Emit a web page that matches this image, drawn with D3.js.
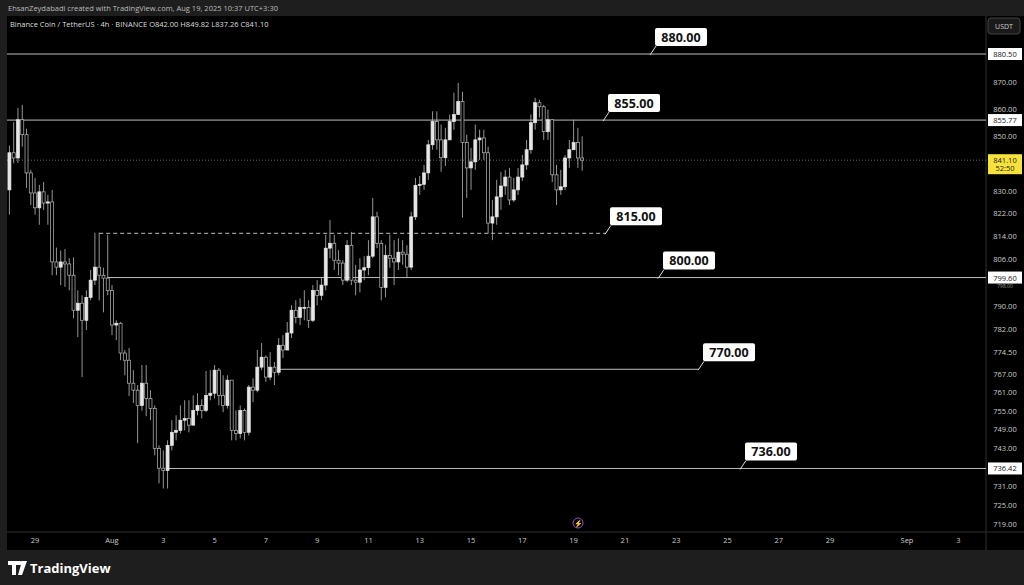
<!DOCTYPE html>
<html><head><meta charset="utf-8">
<script src="https://cdn.jsdelivr.net/npm/d3@7"></script>
<style>body{margin:0;background:#1e1e1e;}svg{display:block;font-family:"Open Sans",Roboto,sans-serif;}</style>
</head><body>
<script>
const startTime = new Date(2025,6,28,0,0);
const closes=[843.8,841.9,855.9,850.4,836.5,829.3,824,829.7,825.7,826.1,805,803.2,805,804.3,800.4,788.4,790.8,785,792.8,798.7,803.2,800.4,799.4,795.2,783.4,784,774,771.6,764,761.7,756.7,764,759,755.7,742.8,736.5,735.8,743.8,748,748.6,751.9,752.5,750.3,755.1,756.7,755.1,760,760.7,768.3,760,756.7,765,748.6,747.6,755.1,748,762.7,761.7,769.3,772.6,766,769.3,767.6,776.6,775,780.7,788.4,786,789.4,789.4,785,795.2,793.5,797,809.8,811.5,805.6,804.6,798.7,810.8,798.7,798,802.2,803,807,820.8,811.5,796.2,807.3,806.3,805,808.4,807.7,803.2,820.8,832,832.4,836.5,846.7,855.2,848.5,842,848.5,855.2,857.8,862.6,847.5,838.3,840.5,848.5,849.2,843.8,818.6,820.8,827.9,831.8,835,826.8,830.4,835,839.4,844.9,854.8,862.2,860.7,851.5,855.9,835.8,830.4,831.5,841.9,844.9,847.5,841.9,841.1];
const highs=[846.4,855,860.3,861.4,852.6,837.6,834.7,832.2,833.2,828.6,830.4,810,809,809.5,806.3,806.6,795.2,793.5,795.2,802.2,815.2,815.2,803,814.5,797,785,784.4,775,775.7,768.3,763.4,770,770,761.7,756.7,743.8,742.2,745.4,751.9,753.5,756.7,758.4,758.4,760,760.7,758.7,768,768.3,770,769,766.6,766.6,764.4,755.1,756.7,755.7,763.4,765.6,775,777.3,773.2,774.3,771,779,780,784.4,790.1,791.8,792.5,795.2,791.8,797,798.7,799.4,814.5,819.7,814.5,809.1,805.6,812.6,815.5,804,806.3,807,812.6,827.5,822.6,812.6,811,814.5,812.6,813.2,812.6,810.8,822.6,834.7,835.4,839.4,848.5,859,859,854.1,852.9,857.8,865.9,869.6,866.3,850.4,845.6,854.1,852.2,852.2,846,826.8,834,836.9,837.6,838.3,834.7,838.3,843,848.5,857.8,864,863.3,861.4,859.6,855.9,839.4,837.6,843,848.5,855.9,852.9,849.82];
const lows=[821.6,840,840.1,846,831.1,825,821.6,818,823.3,818,800.4,800.4,797,796.4,795.2,785.7,779.3,766,781.7,791.8,797,791.8,787.7,793.5,780,778.3,771.6,766.6,759.8,757.5,744.5,755,753.2,751.9,740.6,731.7,730.1,730.1,742.2,745.4,747.6,748.6,748,750.3,753.5,752.5,754.5,758.4,759,756.7,754.5,755.7,745.4,745.4,746,745.4,747,757.8,761,768.3,764.4,765,763.4,766.6,772.3,775.7,779,784,783.4,785,782.4,784.4,790.1,791.8,795.2,806.3,802.2,800.4,797,798,797,793.5,794.5,798.7,800.4,806.3,809.8,791.8,792.8,803,797,802.2,804,799.4,802.2,819.7,828.6,830.4,834,844.9,844.9,836.9,839,850.4,852.2,859.6,820.5,827.5,830.4,837.6,841.2,841.2,815,812.6,818,823.3,828.6,825,826.1,828.6,833.6,837.6,843.4,852.2,856.7,848.5,848.5,833.2,825,828.6,830.4,838.3,844.9,838.3,837.26];
const firstOpen=830.4;
const priceTicks=[870,860,850,830,822,814,806,790,782,774.5,767,761,755,749,743,731,725,719];
const hiddenTick=798;
const levels=[
 {v:880.5,label:"880.00",x0:null,x1:null,lx:655},
 {v:855.77,label:"855.00",x0:null,x1:null,lx:608},
 {v:815,label:"815.00",x0:"2025-07-31T12:00",x1:"2025-08-20T06:00",lx:610,dash:true},
 {v:799.6,label:"800.00",x0:"2025-07-31T20:00",x1:null,lx:663},
 {v:768.6,label:"770.00",x0:"2025-08-07T12:00",x1:"2025-08-23T21:00",lx:703},
 {v:736.42,label:"736.00",x0:"2025-08-03T04:00",x1:null,lx:745}];
const axisBoxes=[880.5,855.77,799.6,736.42];
const dateTicks=[["2025-07-29","29"],["2025-08-01","Aug"],["2025-08-03","3"],["2025-08-05","5"],["2025-08-07","7"],["2025-08-09","9"],["2025-08-11","11"],["2025-08-13","13"],["2025-08-15","15"],["2025-08-17","17"],["2025-08-19","19"],["2025-08-21","21"],["2025-08-23","23"],["2025-08-25","25"],["2025-08-27","27"],["2025-08-29","29"],["2025-09-01","Sep"],["2025-09-03","3"]];

const W=1024,H=585,plotL=7,plotR=986,plotT=16,plotB=532;
const svg=d3.select("body").append("svg").attr("width",W).attr("height",H);
svg.append("rect").attr("width",W).attr("height",H).attr("fill","#1e1e1e");
svg.append("rect").attr("x",plotL).attr("y",plotT).attr("width",W-plotL).attr("height",plotB+18-plotT).attr("fill","#000");
svg.append("line").attr("x1",plotR).attr("x2",plotR).attr("y1",plotT).attr("y2",plotB+18).attr("stroke","#2e2e2e");
svg.append("line").attr("x1",plotL).attr("x2",W).attr("y1",plotB).attr("y2",plotB).attr("stroke","#2e2e2e");
const x=d3.scaleTime().domain([new Date(2025,7,1),new Date(2025,8,1)]).range([112,907]);
const y=d3.scaleLog().domain([719,880.5]).range([524,54]);
const pt=s=>new Date(s);
const data=closes.map((c,i)=>({t:d3.timeHour.offset(startTime,4*i),o:i?closes[i-1]:firstOpen,h:highs[i],l:lows[i],c}));
svg.append("text").attr("x",8).attr("y",11).attr("fill","#bbb").attr("font-size",7.5).text("EhsanZeydabadi created with TradingView.com, Aug 19, 2025 10:37 UTC+3:30");
svg.append("text").attr("x",10).attr("y",27).attr("fill","#ddd").attr("font-size",7.5).text("Binance Coin / TetherUS · 4h · BINANCE  O842.00  H849.82  L837.26  C841.10");
svg.append("line").attr("x1",plotL).attr("x2",plotR).attr("y1",y(841.1)).attr("y2",y(841.1)).attr("stroke","#888").attr("stroke-dasharray","1,2").attr("stroke-width",0.8);
levels.forEach(d=>{
 const yy=y(d.v);
 const xa=d.x0?x(pt(d.x0)):plotL, xb=d.x1?x(pt(d.x1)):plotR;
 svg.append("line").attr("x1",xa).attr("x2",xb).attr("y1",yy).attr("y2",yy).attr("stroke","#bdbdbd").attr("stroke-width",1).attr("stroke-dasharray",d.dash?"4,3":null);
 const bx=d.lx,by=yy-26;
 svg.append("line").attr("x1",bx-5).attr("y1",yy+1).attr("x2",bx+1).attr("y2",by+18).attr("stroke","#ddd");
 svg.append("rect").attr("x",bx).attr("y",by).attr("width",52).attr("height",18).attr("rx",2).attr("fill","#fff");
 svg.append("text").attr("x",bx+26).attr("y",by+13.5).attr("text-anchor","middle").attr("font-size",12.5).attr("font-weight","bold").attr("fill","#111").text(d.label);
});
const g=svg.append("g");
data.forEach(d=>{
 const cx=x(d.t), up=d.c>=d.o;
 g.append("line").attr("x1",cx).attr("x2",cx).attr("y1",y(d.h)).attr("y2",y(d.l)).attr("stroke","#bbb").attr("stroke-width",0.8);
 const y1=y(Math.max(d.o,d.c)),y2=y(Math.min(d.o,d.c));
 g.append("rect").attr("x",cx-1.5).attr("y",y1).attr("width",3).attr("height",Math.max(1,y2-y1)).attr("fill",up?"#e6e6e6":"#000").attr("stroke",up?"#e6e6e6":"#bbb").attr("stroke-width",0.7);
});
priceTicks.forEach(v=>svg.append("text").attr("x",1005).attr("y",y(v)+3).attr("text-anchor","middle").attr("font-size",7.5).attr("fill","#ccc").text(v.toFixed(2)));
// 798 tick peeks out just below the 799.60 box, as in the reference
svg.append("text").attr("x",1005).attr("y",y(799.6)+10).attr("text-anchor","middle").attr("font-size",5).attr("fill","#999").text(hiddenTick.toFixed(2));
axisBoxes.forEach(v=>{svg.append("rect").attr("x",988).attr("y",y(v)-6).attr("width",34).attr("height",12).attr("fill","#fff");
 svg.append("text").attr("x",1005).attr("y",y(v)+3).attr("text-anchor","middle").attr("font-size",7.5).attr("fill","#111").text(v.toFixed(2));});
svg.append("rect").attr("x",988).attr("y",y(841.1)-6).attr("width",34).attr("height",20).attr("fill","#f7e13b");
svg.append("text").attr("x",1005).attr("y",y(841.1)+3).attr("text-anchor","middle").attr("font-size",7.5).attr("fill","#222").text("841.10");
svg.append("text").attr("x",1005).attr("y",y(841.1)+11).attr("text-anchor","middle").attr("font-size",7.5).attr("fill","#222").text("52:50");
svg.append("rect").attr("x",988).attr("y",18).attr("width",32).attr("height",16).attr("rx",3).attr("fill","#1a1a1a").attr("stroke","#444");
svg.append("text").attr("x",1004).attr("y",29).attr("text-anchor","middle").attr("font-size",7).attr("fill","#ccc").text("USDT");
dateTicks.forEach(([d,l])=>svg.append("text").attr("x",x(new Date(d+"T00:00"))).attr("y",543).attr("text-anchor","middle").attr("font-size",7.5).attr("fill","#ccc").text(l));
svg.append("circle").attr("cx",578).attr("cy",523).attr("r",5).attr("fill","none").attr("stroke","#9b4fd0");
svg.append("text").attr("x",578).attr("y",526).attr("text-anchor","middle").attr("font-size",7).attr("fill","#9b4fd0").text("⚡");
svg.append("path").attr("d","M8 561h12v4h-4v10h-4v-10h-4zM22 561h5l-5 14h-4z").attr("fill","#fff");
svg.append("circle").attr("cx",21).attr("cy",563).attr("r",2).attr("fill","#fff");
svg.append("text").attr("x",30).attr("y",573).attr("font-size",13).attr("font-weight","bold").attr("fill","#fff").text("TradingView");
</script></body></html>
